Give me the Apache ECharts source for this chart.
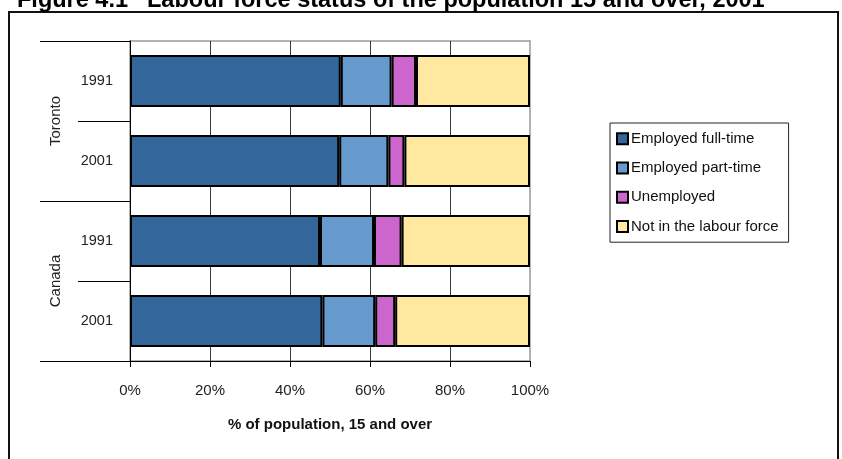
<!DOCTYPE html>
<html>
<head>
<meta charset="utf-8">
<script src="https://cdn.jsdelivr.net/npm/echarts@6/dist/echarts.min.js"></script>
<style>
  html, body { margin: 0; padding: 0; background: #fff; }
  #chart { width: 842px; height: 459px; }
</style>
</head>
<body>
<div id="chart"></div>
<script>
// Labour force status, population 15 and over (% of population)
const years = ['1991', '2001', '1991', '2001'];
const places = ['Toronto', 'Canada'];
const fullTime    = [52.7, 52.3, 47.5, 48.1];
const partTime    = [12.7, 12.3, 13.5, 13.2];
const unemployed  = [6.1, 4.0, 6.9, 5.0];
const notInLabour = [28.5, 31.4, 32.1, 33.7];
const seriesNames = ['Employed full-time', 'Employed part-time', 'Unemployed', 'Not in the labour force'];
const seriesColors = ['#336699', '#6699CC', '#CC66CC', '#FFE9A0'];
const xTicks = [0, 20, 40, 60, 80, 100];

const sans = '"Liberation Sans", Arial, sans-serif';

const chart = echarts.init(document.getElementById('chart'), null, { renderer: 'canvas' });

const values = [fullTime, partTime, unemployed, notInLabour];
const series = seriesNames.map((name, i) => ({
  name: name,
  type: 'bar',
  stack: 'total',
  yAxisIndex: 0,
  barWidth: 52,
  data: values[i],
  itemStyle: { color: seriesColors[i], borderColor: '#000', borderWidth: 2 },
  emphasis: { disabled: true }
}));

chart.setOption({
  animation: false,
  backgroundColor: '#fff',
  grid: {
    left: 130, right: 312, top: 41, bottom: 98,
    show: true, borderColor: '#9a9a9a', borderWidth: 1.5, backgroundColor: 'transparent'
  },
  xAxis: {
    type: 'value',
    min: xTicks[0], max: xTicks[xTicks.length - 1], interval: 20,
    axisLine: { show: true, lineStyle: { color: '#000', width: 1 } },
    axisTick: { show: true, length: 6, lineStyle: { color: '#000' } },
    axisLabel: { formatter: '{value}%', color: '#222', fontFamily: sans, fontSize: 15, margin: 22 },
    splitLine: { show: true, showMinLine: false, showMaxLine: false, lineStyle: { color: '#3a3a3a', width: 1 } },
    name: '% of population, 15 and over',
    nameLocation: 'middle',
    nameGap: 56,
    nameTextStyle: { color: '#111', fontFamily: sans, fontWeight: 'bold', fontSize: 15 }
  },
  yAxis: [
    {
      type: 'category',
      data: years,
      inverse: true,
      position: 'left',
      axisLine: { show: true, lineStyle: { color: '#000', width: 1 } },
      axisTick: { show: true, length: 52, lineStyle: { color: '#000' } },
      axisLabel: { color: '#222', fontFamily: sans, fontSize: 14.5, margin: 17 }
    },
    {
      type: 'category',
      data: places,
      inverse: true,
      position: 'left',
      axisLine: { show: false },
      axisTick: { show: true, length: 90, lineStyle: { color: '#000' } },
      axisLabel: { color: '#222', fontFamily: sans, fontSize: 15, rotate: 90, margin: 67 }
    }
  ],
  legend: {
    orient: 'vertical',
    left: 610, top: 123,
    data: seriesNames,
    itemWidth: 11, itemHeight: 11,
    itemGap: 12,
    padding: [7, 10, 7, 6],
    borderColor: '#222', borderWidth: 1,
    backgroundColor: '#fff',
    selectedMode: false,
    icon: 'rect',
    itemStyle: { borderColor: '#000', borderWidth: 2 },
    textStyle: { color: '#111', fontFamily: sans, fontSize: 15, padding: [0, 0, 0, -2], lineHeight: 17.3 }
  },
  graphic: [
    {
      type: 'rect', silent: true, z: -1,
      shape: { x: 9, y: 12, width: 829, height: 470 },
      style: { fill: 'none', stroke: '#111', lineWidth: 2 }
    },
    {
      type: 'text', silent: true, left: 17, top: -11,
      style: { text: 'Figure 4.1', fill: '#000', font: 'bold 23.5px ' + sans }
    },
    {
      type: 'text', silent: true, left: 147, top: -11,
      style: { text: 'Labour force status of the population 15 and over, 2001', fill: '#000', font: 'bold 23.5px ' + sans }
    }
  ],
  series: series
});
</script>
</body>
</html>
